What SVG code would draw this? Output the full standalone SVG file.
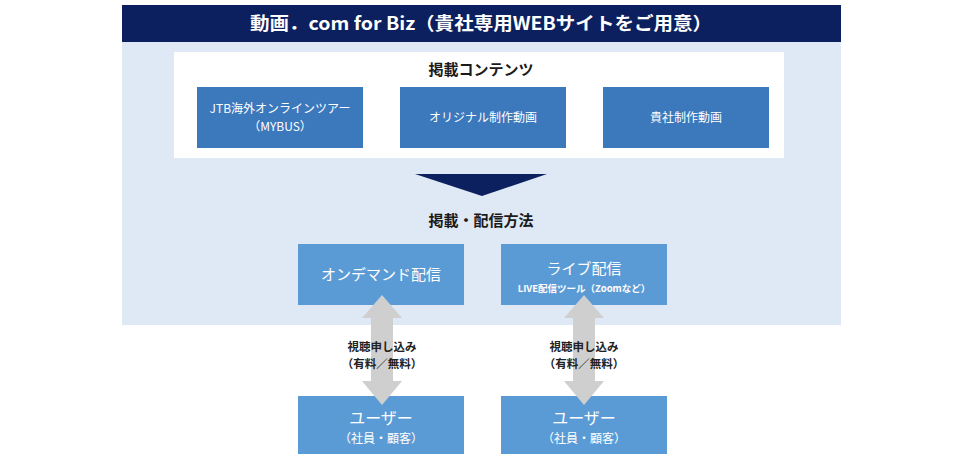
<svg xmlns="http://www.w3.org/2000/svg" width="960" height="465" viewBox="0 0 960 465">
<style>
text{font-family:"Noto Sans CJK JP","Liberation Sans",sans-serif;text-anchor:middle}
.w{fill:#ffffff}
.h{font-weight:bold;font-size:15px;fill:#1a1a1a}
.c{fill:#3c78bc}
.m{fill:#5b9bd5}
.lab{font-weight:bold;font-size:11.5px;fill:#222222}
.arr{fill:#cfcfcf}
</style>
<rect width="960" height="465" fill="#ffffff"/>
<rect x="122" y="42" width="719" height="283" fill="#dfe9f5"/>
<g id="title">
<rect x="122" y="5" width="719" height="37" fill="#0c1f5e"/>
<text x="481" y="30" class="w" font-size="18" font-weight="bold" textLength="462" lengthAdjust="spacingAndGlyphs">動画．com for Biz（貴社専用WEBサイトをご用意）</text>
</g>
<g id="contents">
<rect x="174" y="52" width="610" height="106" fill="#ffffff"/>
<text x="481" y="75" class="h">掲載コンテンツ</text>
</g>
<g id="c1"><rect x="197" y="87" width="166" height="61" class="c"/>
<text x="280" y="113" class="w" font-size="12">JTB海外オンラインツアー</text>
<text x="280" y="131" class="w" font-size="12">（MYBUS）</text></g>
<g id="c2"><rect x="400" y="87" width="166" height="61" class="c"/>
<text x="483" y="122" class="w" font-size="12">オリジナル制作動画</text></g>
<g id="c3"><rect x="603" y="87" width="166" height="61" class="c"/>
<text x="686" y="122" class="w" font-size="12">貴社制作動画</text></g>
<g id="method">
<polygon points="415,174 547,174 482,196" fill="#0c1f5e"/>
<text x="481" y="226" class="h">掲載・配信方法</text>
</g>
<g id="ondemand"><rect x="298" y="244" width="166" height="61" class="m"/>
<text x="381" y="280" class="w" font-size="15">オンデマンド配信</text></g>
<g id="live"><rect x="501" y="244" width="166" height="61" class="m"/>
<text x="584" y="274" class="w" font-size="15">ライブ配信</text>
<text x="584" y="292" class="w" font-size="9.5" font-weight="bold">LIVE配信ツール（Zoomなど）</text></g>
<g id="user1"><rect x="298" y="396" width="166" height="58" class="m"/>
<text x="381" y="424" class="w" font-size="16">ユーザー</text>
<text x="381" y="443" class="w" font-size="12">（社員・顧客）</text></g>
<g id="user2"><rect x="501" y="396" width="166" height="58" class="m"/>
<text x="584" y="424" class="w" font-size="16">ユーザー</text>
<text x="584" y="443" class="w" font-size="12">（社員・顧客）</text></g>
<g id="connectors">
<polygon class="arr" points="382,295 402,318 393,318 393,381 402,381 382,405 362,381 371,381 371,318 362,318"/>
<polygon class="arr" points="584,295 604,318 595,318 595,381 604,381 584,405 564,381 573,381 573,318 564,318"/>
<text x="382" y="351" class="lab">視聴申し込み</text>
<text x="382" y="368" class="lab">（有料／無料）</text>
<text x="584" y="351" class="lab">視聴申し込み</text>
<text x="584" y="368" class="lab">（有料／無料）</text>
</g>
</svg>
